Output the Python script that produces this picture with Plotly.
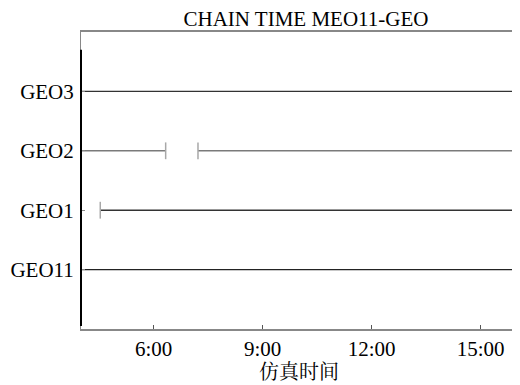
import plotly.graph_objects as go

# Data: link availability intervals (hours of simulation time)
categories = ["GEO11", "GEO1", "GEO2", "GEO3"]
interval_links = ["GEO3", "GEO2", "GEO2", "GEO1", "GEO11"]
interval_start = [4.0, 4.0, 7.22, 4.53, 4.0]
interval_end = [16.0, 6.33, 16.0, 16.0, 16.0]
interval_colors = ["#333333", "#7a7a7a", "#7a7a7a", "#333333", "#222222"]
x_tickvals = [6, 9, 12, 15]
x_ticktext = ["6:00", "9:00", "12:00", "15:00"]
x_min, x_max = 4.0, 16.0

FONT = "Liberation Serif, Times New Roman, serif"
W, H = 512, 377  # page body has an 8px margin

fig = go.Figure()
for name, s, e, c in zip(interval_links, interval_start, interval_end, interval_colors):
    y = categories.index(name)
    fig.add_trace(go.Scatter(x=[s, e], y=[y, y], mode="lines",
                             line=dict(color=c, width=1.4), showlegend=False,
                             hoverinfo="skip"))
    caps = [v for v in (s, e) if x_min < v < x_max]
    if caps:
        fig.add_trace(go.Scatter(x=caps, y=[y] * len(caps), mode="markers",
                                 marker=dict(symbol="line-ns-open", size=12, color="#a8a8a8",
                                             line=dict(color="#a8a8a8", width=1.5)),
                                 showlegend=False, hoverinfo="skip"))

fig.update_layout(
    width=W, height=H,
    margin=dict(l=73, r=3, t=24, b=56),
    paper_bgcolor="white", plot_bgcolor="white",
    font=dict(family=FONT, size=21, color="black"),
    title=dict(text="CHAIN TIME MEO11-GEO", x=298 / W, xref="container",
               xanchor="center", y=1 - 11 / H, yref="container", yanchor="middle",
               font=dict(family=FONT, size=21, color="black")),
    xaxis=dict(range=[x_min, x_max], tickvals=x_tickvals, ticktext=x_ticktext,
               ticks="inside", ticklen=4, tickcolor="#555", showgrid=False,
               zeroline=False, showline=True, linecolor="#888", linewidth=1.5,
               mirror=True, automargin=False, ticklabelstandoff=0,
               title=dict(text="仿真时间", standoff=7,
                          font=dict(family="Noto Serif CJK SC, Noto Sans CJK SC", size=20)),
               tickfont=dict(family=FONT, size=21)),
    yaxis=dict(range=[-1, 4], tickvals=list(range(len(categories))), ticktext=categories,
               ticks="inside", ticklen=4, tickcolor="#888", showgrid=False,
               zeroline=False, showline=True, linecolor="#888", linewidth=1,
               mirror=True, ticklabelstandoff=2, automargin=False,
               tickfont=dict(family=FONT, size=21)),
    shapes=[dict(type="line", xref="paper", yref="paper", x0=0, x1=0,
                 y0=0.01, y1=0.94, line=dict(color="black", width=2))],
)

fig.write_html("out.html")
